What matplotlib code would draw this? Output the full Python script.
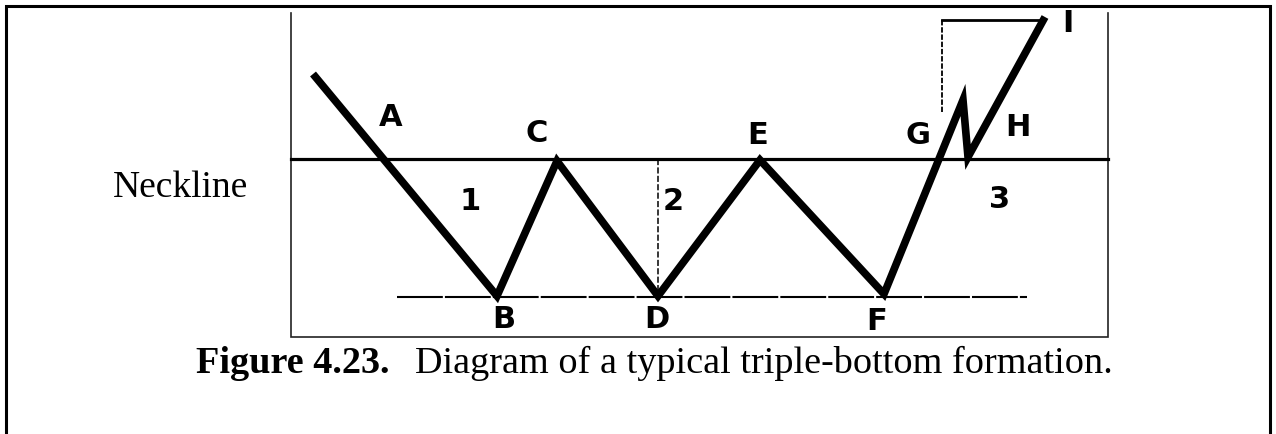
import matplotlib
matplotlib.use("Agg")
import matplotlib.pyplot as plt

# Price path of the triple-bottom diagram (pixel-like diagram units, y downward)
path_x = [313, 497, 557, 658, 760, 884, 963, 968, 1045]
path_y = [74, 296, 161, 296, 160, 294, 100, 157, 17]

neckline_y = 159
support_y = 297

# Point labels
point_labels = ["A", "B", "C", "D", "E", "F", "G", "H", "I"]
label_x = [391, 504, 537, 657, 758, 877, 918, 1018, 1068]
label_y = [118, 320, 134, 319, 136, 322, 135, 127, 24]

# Measurement labels
measure_labels = ["1", "2", "3"]
measure_x = [470, 673, 1000]
measure_y = [202, 202, 200]

W, H = 1276, 434
fig = plt.figure(figsize=(W / 100, H / 100), dpi=100)
ax = fig.add_axes([0, 0, 1, 1])
ax.set_xlim(0, W)
ax.set_ylim(H, 0)
ax.axis("off")

# outer frame (top, left, right; bottom cut off)
ax.plot([6, 6, 1270, 1270], [440, 6, 6, 440], color="black", lw=2.2,
        solid_joinstyle="miter")
# inner box (no top edge)
ax.plot([291, 291, 1108, 1108], [13, 337, 337, 13], color="#222222", lw=1.2,
        solid_joinstyle="miter")

# neckline
ax.plot([291, 1108], [neckline_y, neckline_y], color="black", lw=2.3)
# support line
ax.plot([397, 1027], [support_y, support_y], color="black", lw=1.5,
        dashes=(22, 1.0))
# measurement verticals
ax.plot([658, 658], [neckline_y, support_y], color="black", lw=1.1,
        dashes=(4, 1.5))
ax.plot([942, 942], [20, 112], color="black", lw=1.3, dashes=(3, 1))
ax.plot([942, 1043], [20, 20], color="black", lw=2.0)

# price path
ax.plot(path_x, path_y, color="black", lw=5.5, solid_joinstyle="miter",
        solid_capstyle="butt")

for t, x, y in zip(point_labels, label_x, label_y):
    ax.text(x, y, t, ha="center", va="center", fontsize=22,
            fontweight="bold", family="DejaVu Sans")
for t, x, y in zip(measure_labels, measure_x, measure_y):
    ax.text(x, y, t, ha="center", va="center", fontsize=22,
            fontweight="bold", family="DejaVu Sans")

ax.text(180, 197, "Neckline", ha="center", va="baseline", fontsize=27,
        family="Liberation Serif")

ax.text(390, 373, "Figure 4.23.", ha="right", va="baseline", fontsize=27.5,
        fontweight="bold", family="Liberation Serif")
ax.text(1113, 373, "Diagram of a typical triple-bottom formation.", ha="right",
        va="baseline", fontsize=27.5, family="Liberation Serif")

fig.savefig("out.png", dpi=100)
